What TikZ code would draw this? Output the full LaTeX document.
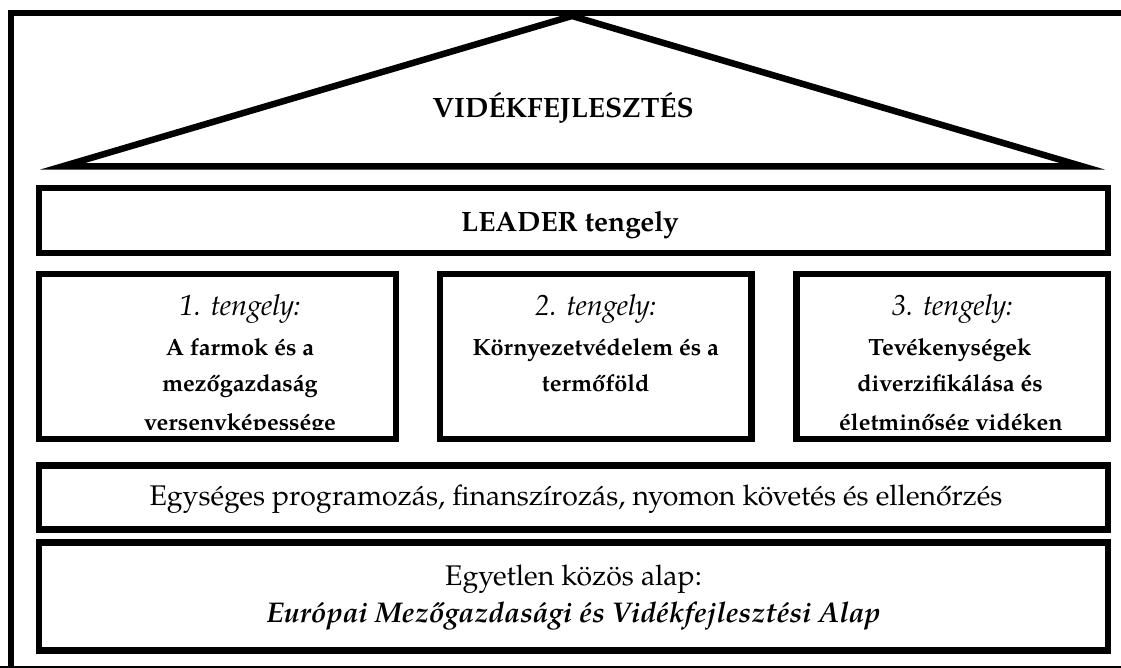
\documentclass[tikz,border=0pt]{standalone}
\usepackage{fontspec}
\setmainfont{TeX Gyre Pagella}
\begin{document}
\begin{tikzpicture}[x=1pt,y=-1pt,
  thick line/.style={line width=6.5pt,line join=miter},
  box/.style={draw,line width=6.5pt,rectangle,inner sep=0pt,outer sep=0pt},
  head/.style={font=\fontsize{29}{34}\selectfont\itshape,anchor=base,inner sep=0pt},
  sub/.style={font=\fontsize{23.5}{28}\selectfont\bfseries,anchor=base,inner sep=0pt},
  title/.style={font=\fontsize{28}{34}\selectfont\bfseries,anchor=base,inner sep=0pt},
  plain/.style={font=\fontsize{28.4}{34}\selectfont,anchor=base,inner sep=0pt}]
\useasboundingbox (0,0) rectangle (1121,668);
% outer frame
\coordinate (frTR) at (1130,13);
\coordinate (frTL) at (11,13);
\coordinate (frBL) at (11,672);
\draw[line width=6.5pt,line join=miter] (frTR) -- (frTL) -- (frBL);
\coordinate (bl) at (0,667);
\coordinate (br) at (1121,667);
\draw[line width=1.3pt] (bl) -- (br);
% roof
\coordinate (roofL) at (62,166.5);
\coordinate (roofT) at (572,16);
\coordinate (roofR) at (1083,166.5);
\draw[thick line] (roofL) -- (roofT) -- (roofR) -- cycle;
\node[title] (vf) at (563,118) {VIDÉKFEJLESZTÉS};
% LEADER
\node[box,minimum width=1069pt,minimum height=65pt] (leader) at (573.5,220.5) {};
\node[title] (leadert) at (570,232) {LEADER tengely};
% axes
\node[box,minimum width=357pt,minimum height=165pt] (ax1) at (217.5,356.5) {};
\node[box,minimum width=311.5pt,minimum height=165pt] (ax2) at (595.75,356.5) {};
\node[box,minimum width=311.5pt,minimum height=165pt] (ax3) at (952.25,356.5) {};
\begin{scope}
\clip (42,277) rectangle (1105,429);
\node[head] (h1) at (240,315) {1. tengely:};
\node[sub] (a1) at (240,355) {A farmok és a};
\node[sub] (b1) at (240,391) {mezőgazdaság};
\node[sub] (c1) at (240,430) {versenyképessége};
\node[head] (h2) at (595.75,315) {2. tengely:};
\node[sub] (a2) at (595.75,355) {Környezetvédelem és a};
\node[sub] (b2) at (595.75,391) {termőföld};
\node[head] (h3) at (952.25,315) {3. tengely:};
\node[sub] (a3) at (950,355) {Tevékenységek};
\node[sub] (b3) at (950,391) {diverzifikálása és};
\node[sub] (c3) at (951,430) {életminőség vidéken};
\end{scope}
% programming
\node[box,minimum width=1069pt,minimum height=64pt] (prog) at (573.5,497.5) {};
\node[plain] (progt) at (576,505.5) {Egységes programozás, finanszírozás, nyomon követés és ellenőrzés};
% fund
\node[box,minimum width=1069pt,minimum height=108pt] (fund) at (573.5,596.5) {};
\node[plain] (funda) at (573.5,585.5) {Egyetlen közös alap:};
\node[font=\fontsize{28.5}{32}\selectfont\bfseries\itshape,anchor=base,inner sep=0pt] (fundb) at (573.5,622.5) {Európai Mezőgazdasági és Vidékfejlesztési Alap};
\end{tikzpicture}
\end{document}
